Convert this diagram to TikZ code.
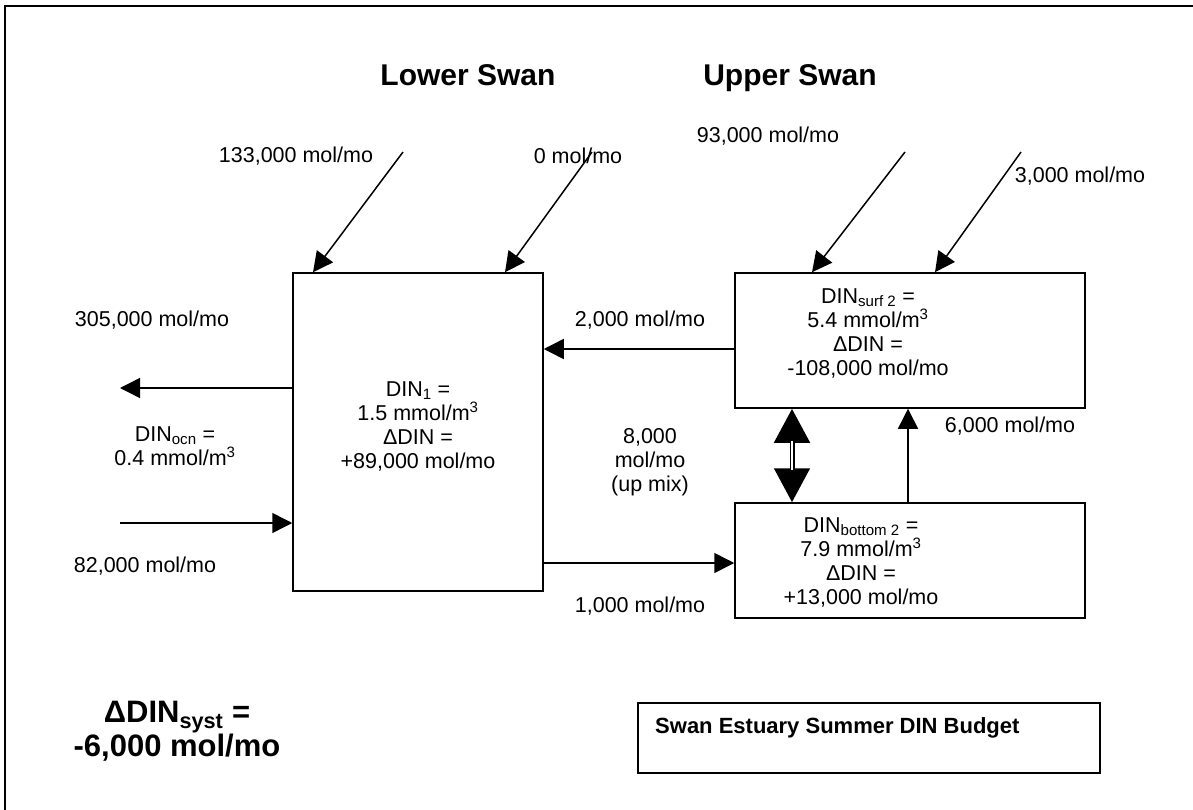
\documentclass[tikz,border=0pt]{standalone}
\usepackage{fontspec}
\setmainfont{Liberation Sans}
\usetikzlibrary{arrows.meta}
\begin{document}
\begin{tikzpicture}[x=1pt,y=-1pt,
  every node/.style={inner sep=0pt, font=\fontsize{21.5}{24}\selectfont, align=center},
  box/.style={draw, line width=1.5pt, rectangle, inner sep=0pt},
  flow/.style={line width=1.5pt, -{Triangle[length=20pt,width=20pt]}},
  head/.style={font=\bfseries\fontsize{30}{34}\selectfont, anchor=base},
  bigbold/.style={font=\bfseries\fontsize{31}{31}\selectfont},
  ]
\useasboundingbox (0,0) rectangle (1193,810);
% outer frame (cropped)
\draw[line width=2pt] (5,810) -- (5,6) -- (1193,6);

% headings
\node[head] (hlow) at (468,86) {Lower Swan};
\node[head] (hup) at (790,86) {Upper Swan};

% boxes
\node[box, minimum width=250pt, minimum height=318pt] (low) at (418,432) {};
\node[box, minimum width=350pt, minimum height=135pt] (surf) at (910,340.5) {};
\node[box, minimum width=350pt, minimum height=115pt] (bot) at (910,560.5) {};
\node[box, minimum width=462pt, minimum height=70pt] (tbox) at (869,738) {};

% box texts
\node (lowtxt) at (418,426) {DIN\textsubscript{1} =\\1.5 mmol/m\textsuperscript{3}\\ΔDIN =\\+89,000 mol/mo};
\node (surftxt) at (868,333) {DIN\textsubscript{surf 2} =\\5.4 mmol/m\textsuperscript{3}\\ΔDIN =\\-108,000 mol/mo};
\node (bottxt) at (861,562) {DIN\textsubscript{bottom 2} =\\7.9 mmol/m\textsuperscript{3}\\ΔDIN =\\+13,000 mol/mo};
\node[font=\bfseries\fontsize{22}{26}\selectfont, anchor=west] (title) at (655,728) {Swan Estuary Summer DIN Budget};

% free ends
\coordinate (in1) at (403,152);
\coordinate (in2) at (592,152);
\coordinate (in3) at (905,152);
\coordinate (in4) at (1021,152);
\coordinate (ocnout) at (120,388);
\coordinate (ocnin) at (120,523);

% connectors
\draw[flow] (in1) -- (low.north -| 313,0);
\draw[flow] (in2) -- (low.north -| 505,0);
\draw[flow] (in3) -- (surf.north -| 812,0);
\draw[flow] (in4) -- (surf.north -| 935,0);
\draw[flow] (low.west |- ocnout) -- (ocnout);
\draw[flow] (ocnin) -- (low.west |- ocnin);
\draw[flow] (surf.west |- 0,349) -- (low.east |- 0,349);
\draw[flow] (low.east |- 0,563) -- (bot.west |- 0,563);
\draw[flow] (bot.north -| 908,0) -- (surf.south -| 908,0);
% double exchange arrow
\draw[line width=5pt, {Triangle[length=34pt,width=35pt]}-{Triangle[length=34pt,width=35pt]}] (surf.south -| 792,0) -- (bot.north -| 792,0);
\draw[white, line width=2pt, shorten <=32pt, shorten >=32pt] (surf.south -| 792,0) -- (bot.north -| 792,0);

% flow labels
\node (l133) at (296,156) {133,000 mol/mo};
\node (l0) at (578,156) {0 mol/mo};
\node (l93) at (768,136) {93,000 mol/mo};
\node (l3) at (1080,176) {3,000 mol/mo};
\node (l305) at (152,320) {305,000 mol/mo};
\node (locn) at (175,446) {DIN\textsubscript{ocn} =\\0.4 mmol/m\textsuperscript{3}};
\node (l82) at (145,566) {82,000 mol/mo};
\node (l2) at (640,320) {2,000 mol/mo};
\node (l8) at (650,462) {8,000\\mol/mo\\(up mix)};
\node (l6) at (1010,426) {6,000 mol/mo};
\node (l1) at (640,606) {1,000 mol/mo};

% system total
\node[bigbold] (syst) at (177,731) {ΔDIN\textsubscript{syst} =\\-6,000 mol/mo};
\end{tikzpicture}
\end{document}
